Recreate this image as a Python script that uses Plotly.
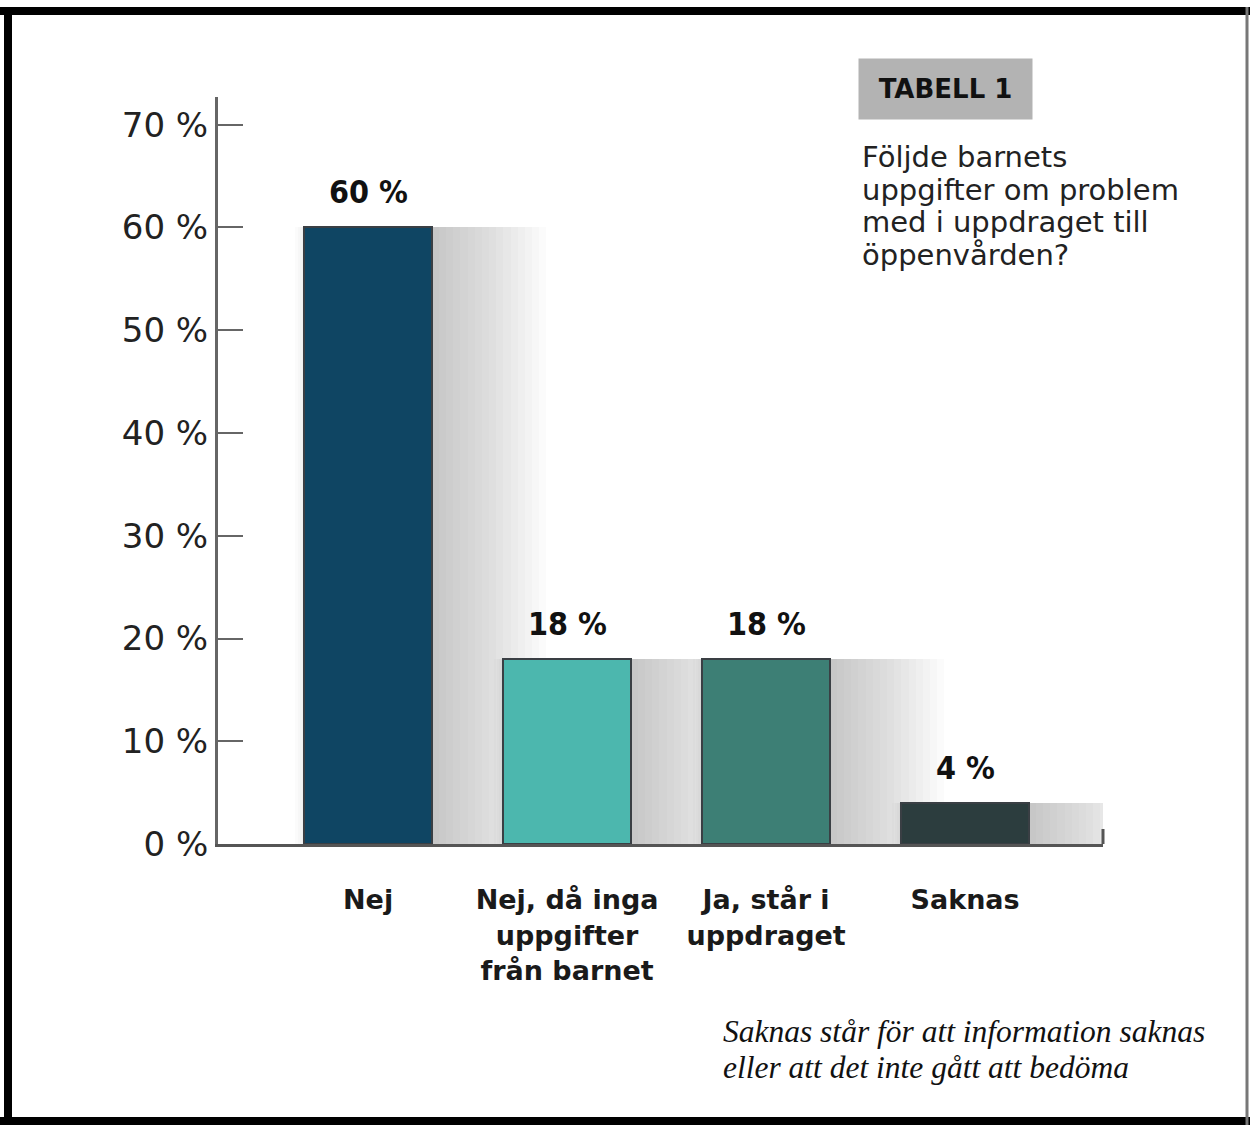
import plotly.graph_objects as go

categories = ["Nej", "Nej, då inga<br>uppgifter<br>från barnet", "Ja, står i<br>uppdraget", "Saknas"]
values = [60, 18, 18, 4]
bar_colors = ["#0f4563", "#4cb7ae", "#3d7f75", "#2c3d3e"]
y_tickvals = [0, 10, 20, 30, 40, 50, 60, 70]
y_ticktext = [f"{v} %" for v in y_tickvals]
question_lines = ["Följde barnets", "uppgifter om problem", "med i uppdraget till", "öppenvården?"]
note_lines = ["Saknas står för att information saknas", "eller att det inte gått att bedöma"]

W, H = 1250, 1125
L, R, T, B = 218, 1103, 97, 844

def px(x):
    return (x - L) / (R - L)

def py(y):
    return (B - y) / (B - T)

xs = list(range(len(categories)))
fig = go.Figure()

# soft shadow layers behind bars
nlay = 16
for j in range(nlay):
    right = 0.32 + 0.036 * (j + 1)
    left = -0.28 if j < 12 else -0.33 - 0.012 * (j - 12)
    fig.add_trace(go.Bar(
        x=xs, y=values, width=right - left, offset=left,
        marker=dict(color="rgba(112,122,138,0.03)", line=dict(width=0)),
        hoverinfo="skip", showlegend=False))

fig.add_trace(go.Bar(
    x=xs, y=values, width=0.64, offset=-0.32,
    marker=dict(color=bar_colors, line=dict(color="#3a3f44", width=2)),
    showlegend=False))

for i, v in enumerate(values):
    fig.add_annotation(x=i, y=v, text=f"{v} %", showarrow=False, yanchor="bottom", yshift=14,
                       font=dict(family="DejaVu Sans Condensed, DejaVu Sans",
                                 size=32, color="#111111", weight="bold"))

fig.update_layout(
    width=W, height=H,
    margin=dict(l=L, r=W - R, t=T, b=H - B, pad=0),
    paper_bgcolor="white", plot_bgcolor="rgba(0,0,0,0)",
    barmode="overlay", bargap=0,
    xaxis=dict(range=[-0.754, 3.693], tickvals=xs, ticktext=categories, showline=True,
               linecolor="#555555", linewidth=3, showgrid=False, zeroline=False, ticks="",
               ticklabelstandoff=30,
               tickfont=dict(family="DejaVu Sans", size=27, color="#1a1a1a", weight="bold")),
    yaxis=dict(range=[0, 72.7], tickvals=y_tickvals, ticktext=y_ticktext, showline=True,
               linecolor="#666666", linewidth=3, showgrid=False, zeroline=False,
               ticks="inside", ticklen=25, tickwidth=2, tickcolor="#666666",
               ticklabelstandoff=0,
               tickfont=dict(family="DejaVu Sans", size=34, color="#222222")),
)

# end tick on x axis
fig.add_shape(type="line", xref="paper", yref="paper", x0=1, x1=1, y0=0, y1=py(829),
              line=dict(color="#555555", width=3))

# title box
fig.add_annotation(xref="paper", yref="paper", x=px(858), y=py(58), xanchor="left", yanchor="top",
                   text="<b>TABELL 1</b>", showarrow=False, bgcolor="#b3b3b3",
                   width=173, height=60, align="center", borderpad=0,
                   font=dict(family="DejaVu Sans", size=26, color="#111111"))
q_y = [157, 190, 222, 255]
for line, yy in zip(question_lines, q_y):
    fig.add_annotation(xref="paper", yref="paper", x=px(860), y=py(yy), xanchor="left", yanchor="middle",
                       text=line, showarrow=False, align="left",
                       font=dict(family="DejaVu Sans", size=29, color="#222222"))
n_y = [1031, 1067]
for line, yy in zip(note_lines, n_y):
    fig.add_annotation(xref="paper", yref="paper", x=px(721), y=py(yy), xanchor="left", yanchor="middle",
                       text=f"<i>{line}</i>", showarrow=False, align="left",
                       font=dict(family="Liberation Serif, DejaVu Serif", size=31.5, color="#111111"))

# frame
frame = [((0, 11), (1250, 11), "#000000", 8),
         ((8, 7), (8, 1125), "#000000", 8),
         ((0, 1121), (1250, 1121), "#000000", 8),
         ((1247, 7), (1247, 1125), "#777777", 3)]
for (xa, ya), (xb, yb), c, w in frame:
    fig.add_shape(type="line", xref="paper", yref="paper", x0=px(xa), x1=px(xb), y0=py(ya), y1=py(yb),
                  line=dict(color=c, width=w), layer="above")

fig.write_html("out.html", config={"displayModeBar": False},
               post_script="document.body.style.margin='0';")
